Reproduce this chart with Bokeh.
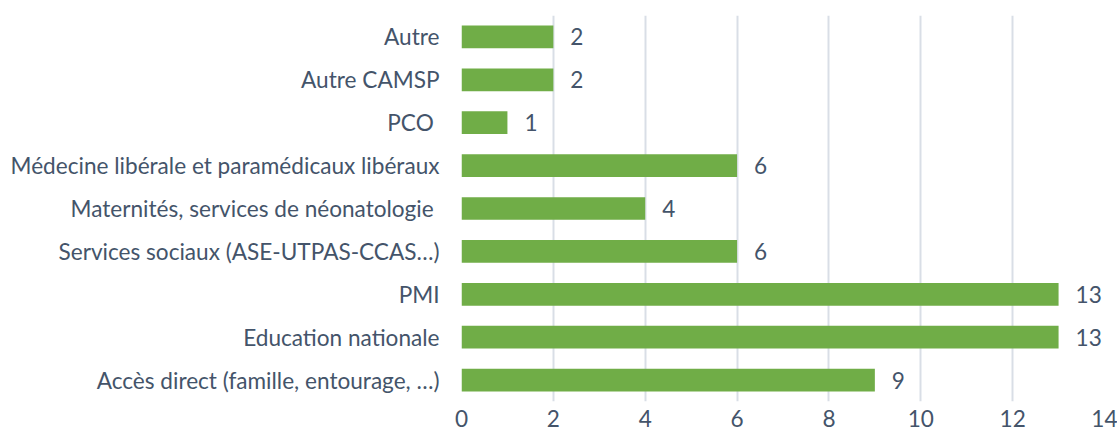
from bokeh.plotting import figure
from bokeh.models import ColumnDataSource, FixedTicker, Range1d
from bokeh.embed import file_html
from bokeh.resources import INLINE
from bokeh.core.properties import value

categories = [
    "Accès direct (famille, entourage, …)",
    "Education nationale",
    "PMI",
    "Services sociaux (ASE-UTPAS-CCAS…)",
    "Maternités, services de néonatologie ",
    "Médecine libérale et paramédicaux libéraux",
    "PCO ",
    "Autre CAMSP",
    "Autre",
]
counts = [9, 13, 13, 6, 4, 6, 1, 2, 2]
x_ticks = [0, 2, 4, 6, 8, 10, 12, 14]

FONT = "Lato"
TEXT_COLOR = "#44546A"
FS = "22.6px"

src = ColumnDataSource(dict(cat=categories, val=counts, lab=[str(v) for v in counts]))

p = figure(
    y_range=categories,
    x_range=Range1d(0, 14),
    width=1117,
    height=439,
    output_backend="svg",
    toolbar_location=None,
    min_border_left=461,
    min_border_right=13,
    min_border_top=15,
    min_border_bottom=38,
)
p.outline_line_color = None
p.background_fill_color = "white"

p.hbar(y="cat", right="val", left=0, height=0.53, source=src,
       fill_color="#70AD47", line_color=None)

p.text(x="val", y="cat", text="lab", source=src, x_offset=17,
       text_align="left", text_baseline="middle",
       text_font=value(FONT), text_font_size=FS, text_color=TEXT_COLOR)

p.xaxis.ticker = FixedTicker(ticks=x_ticks)
p.xaxis.axis_line_color = None
p.xaxis.major_tick_line_color = None
p.xaxis.major_tick_out = 0
p.xaxis.major_tick_in = 0
p.xaxis.minor_tick_line_color = None
p.xaxis.major_label_standoff = 8
p.xaxis.major_label_text_font = FONT
p.xaxis.major_label_text_font_size = FS
p.xaxis.major_label_text_color = TEXT_COLOR

p.yaxis.axis_line_color = None
p.yaxis.major_tick_line_color = None
p.yaxis.major_tick_out = 0
p.yaxis.major_tick_in = 0
p.yaxis.minor_tick_line_color = None
p.yaxis.major_label_standoff = 22
p.yaxis.major_label_text_font = FONT
p.yaxis.major_label_text_font_size = FS
p.yaxis.major_label_text_color = TEXT_COLOR

p.ygrid.grid_line_color = None
p.xgrid.ticker = FixedTicker(ticks=x_ticks)
p.xgrid.grid_line_color = "#D9DEE6"
p.xgrid.grid_line_width = 2
p.y_range.range_padding = 0

open("out.html", "w").write(file_html(p, INLINE))
